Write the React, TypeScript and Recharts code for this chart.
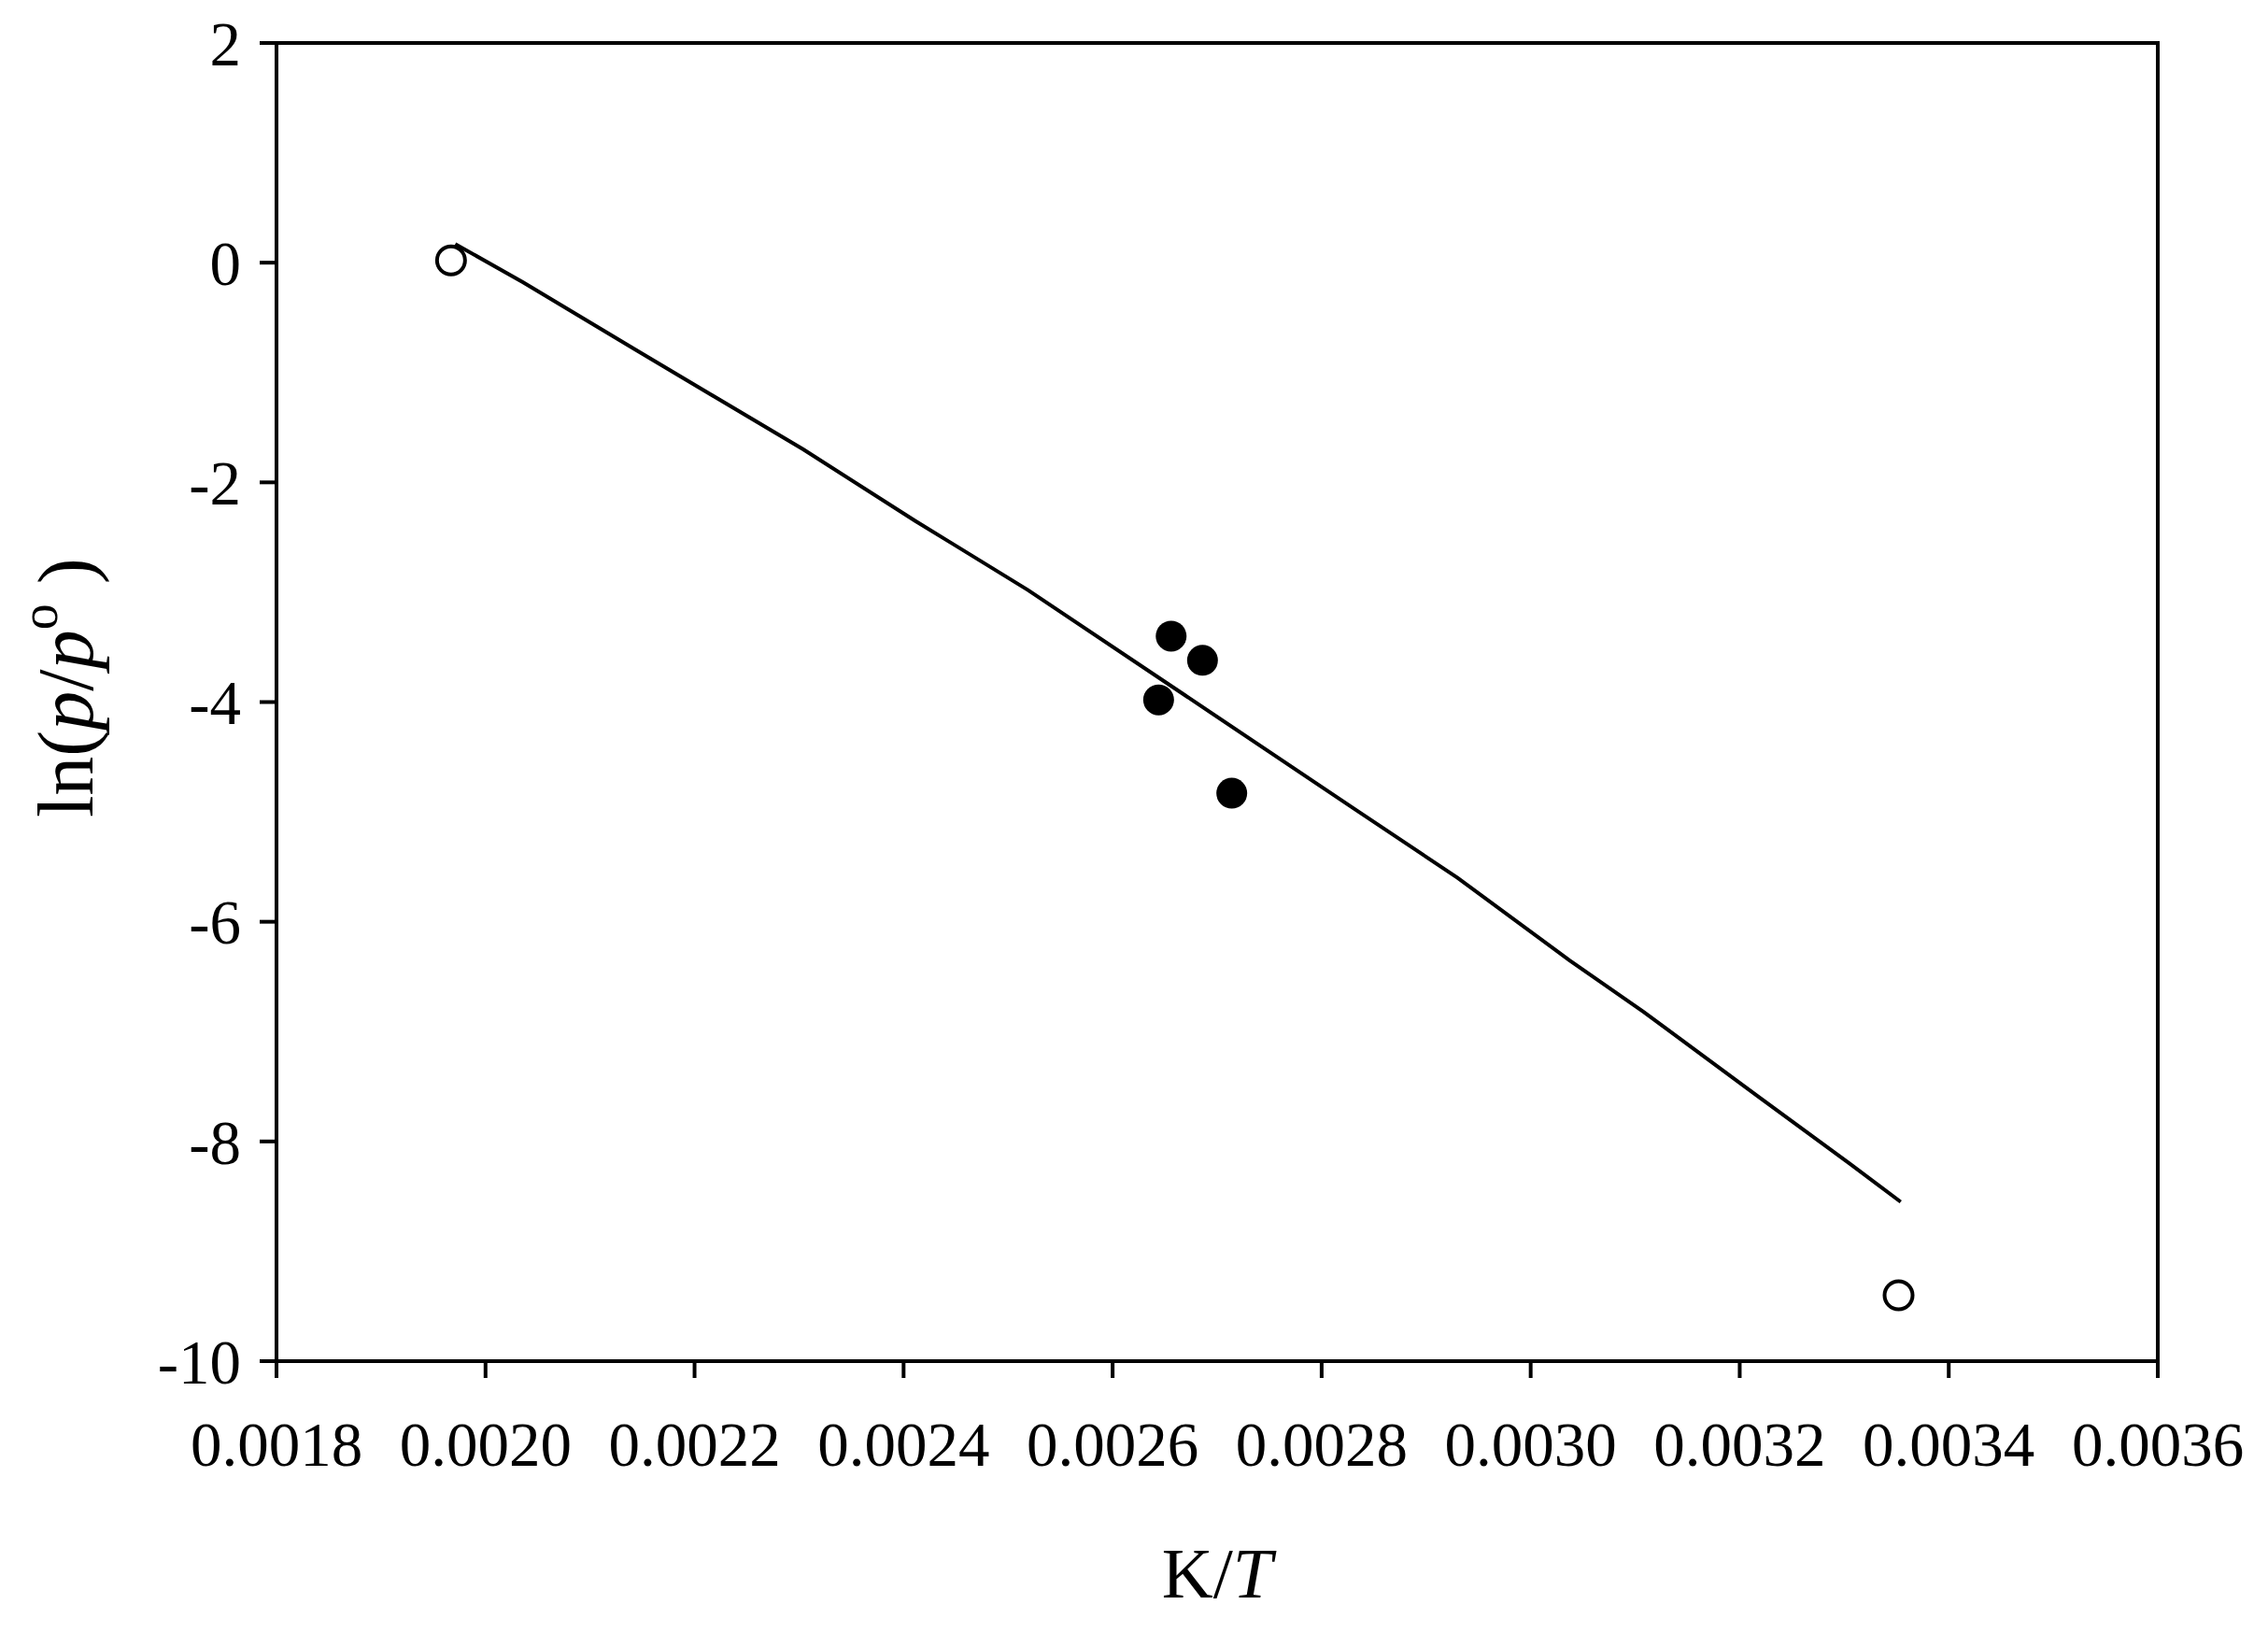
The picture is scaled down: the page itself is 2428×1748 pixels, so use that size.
import {
  ScatterChart,
  Scatter,
  XAxis,
  YAxis,
  ReferenceArea,
  Label,
} from "recharts";

// open circles (end points)
const openX = [0.001967, 0.003352];
const openY = [0.02, -9.4];

// filled circles
const filledX = [0.002656, 0.002686, 0.002644, 0.002714];
const filledY = [-3.4, -3.62, -3.98, -4.83];

// fitted curve
const curveX = [
  0.001971, 0.002036, 0.002143, 0.002304, 0.002411, 0.002519, 0.002831, 0.00293,
  0.003037, 0.003108, 0.003216, 0.003305, 0.003354,
];
const curveY = [0.17, -0.18, -0.79, -1.7, -2.35, -2.98, -4.97, -5.6, -6.35, -6.82, -7.58, -8.2, -8.55];

const xTicks = [0.0018, 0.002, 0.0022, 0.0024, 0.0026, 0.0028, 0.003, 0.0032, 0.0034, 0.0036];
const yTicks = [2, 0, -2, -4, -6, -8, -10];

const FONT = "'Liberation Serif', 'Times New Roman', serif";

const zip = (xs: number[], ys: number[]) => xs.map((x, i) => ({ x, y: ys[i] }));

const OpenDot = (props: any) => (
  <circle cx={props.cx} cy={props.cy} r={15} fill="#fff" stroke="#000" strokeWidth={4} />
);
const FilledDot = (props: any) => <circle cx={props.cx} cy={props.cy} r={16.5} fill="#000" />;
const NoDot = () => <g />;

const YTitle = () => {
  const cx = 70;
  const cy = 875;
  return (
    <text
      x={cx}
      y={cy}
      transform={`rotate(-90, ${cx}, ${cy})`}
      textAnchor="start"
      dominantBaseline="central"
      fontFamily={FONT}
      fontSize={84}
      fill="#000"
    >
      ln(<tspan fontStyle="italic">p</tspan>/<tspan fontStyle="italic">p</tspan>
      <tspan dy={-28} fontSize={56}>o</tspan>
      <tspan dy={28}> )</tspan>
    </text>
  );
};

const XTitle = (props: any) => {
  const vb = props.viewBox || {};
  const cx = vb.x + vb.width / 2;
  return (
    <text x={cx} y={1710} textAnchor="middle" fontFamily={FONT} fontSize={76} fill="#000">
      K/<tspan fontStyle="italic">T</tspan>
    </text>
  );
};

export default function App() {
  const tickStyle = { fill: "#000", fontSize: 67, fontFamily: FONT };
  return (
    <div style={{ position: "absolute", left: 0, top: 0, width: 2428, height: 1748, background: "#fff" }}>
      <ScatterChart width={2428} height={1748} margin={{ top: 46, right: 118, bottom: 0, left: 0 }}>
        <XAxis
          type="number"
          dataKey="x"
          domain={[0.0018, 0.0036]}
          ticks={xTicks}
          tickFormatter={(v: number) => v.toFixed(4)}
          height={291}
          tick={tickStyle}
          tickSize={18}
          tickMargin={46}
          stroke="#000"
          strokeWidth={4}
          allowDataOverflow
        >
          <Label content={<XTitle />} />
        </XAxis>
        <YAxis
          type="number"
          dataKey="y"
          domain={[-10, 2]}
          ticks={yTicks}
          width={296}
          tick={tickStyle}
          tickSize={18}
          tickMargin={20}
          stroke="#000"
          strokeWidth={4}
          allowDataOverflow
        >
          <Label content={<YTitle />} />
        </YAxis>
        <ReferenceArea
          x1={0.0018}
          x2={0.0036}
          y1={-10}
          y2={2}
          fill="none"
          stroke="#000"
          strokeWidth={4}
          fillOpacity={0}
        />
        <Scatter
          data={zip(curveX, curveY)}
          line={{ stroke: "#000", strokeWidth: 4 }}
          shape={NoDot}
          isAnimationActive={false}
        />
        <Scatter data={zip(openX, openY)} shape={OpenDot} isAnimationActive={false} />
        <Scatter data={zip(filledX, filledY)} shape={FilledDot} isAnimationActive={false} />
      </ScatterChart>
    </div>
  );
}
